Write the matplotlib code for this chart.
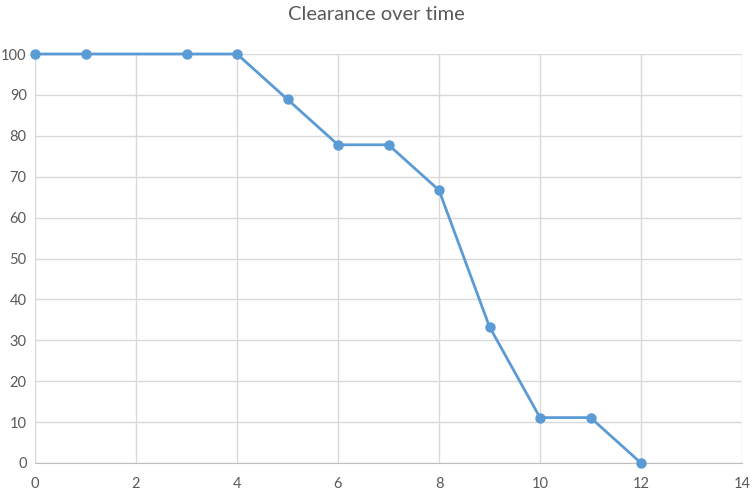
import matplotlib
matplotlib.use("Agg")
import matplotlib.pyplot as plt

x_values = [0, 1, 3, 4, 5, 6, 7, 8, 9, 10, 11, 12]
clearance = [100, 100, 100, 100, 88.9, 77.8, 77.8, 66.7, 33.3, 11.1, 11.1, 0]
x_ticks = [0, 2, 4, 6, 8, 10, 12, 14]
y_ticks = [0, 10, 20, 30, 40, 50, 60, 70, 80, 90, 100]
title = "Clearance over time"

plt.rcParams['font.family'] = ['Lato', 'DejaVu Sans']
fig = plt.figure(figsize=(7.53, 4.96), dpi=100)
ax = fig.add_axes([35/753, 1-463/496, (742-35)/753, (463-54)/496])

ax.plot(x_values, clearance, color='#5B9BD5', linewidth=2, marker='o', markersize=6.5, zorder=3, clip_on=False)
ax.set_xlim(0, 14)
ax.set_ylim(0, 100)
ax.set_xticks(x_ticks)
ax.set_yticks(y_ticks)
ax.grid(True, color='#D9D9D9', linewidth=1)
ax.set_axisbelow(True)
for s in ['top', 'right', 'left']:
    ax.spines[s].set_visible(False)
ax.spines['bottom'].set_color('#BFBFBF')
ax.tick_params(length=0, labelsize=10.5, colors='#595959', pad=6)
ax.tick_params(axis='x', pad=10)
fig.text(0.5, 1-14/496, title, ha='center', va='center', fontsize=14.5, color='#595959')
fig.savefig('out.png', dpi=100)
